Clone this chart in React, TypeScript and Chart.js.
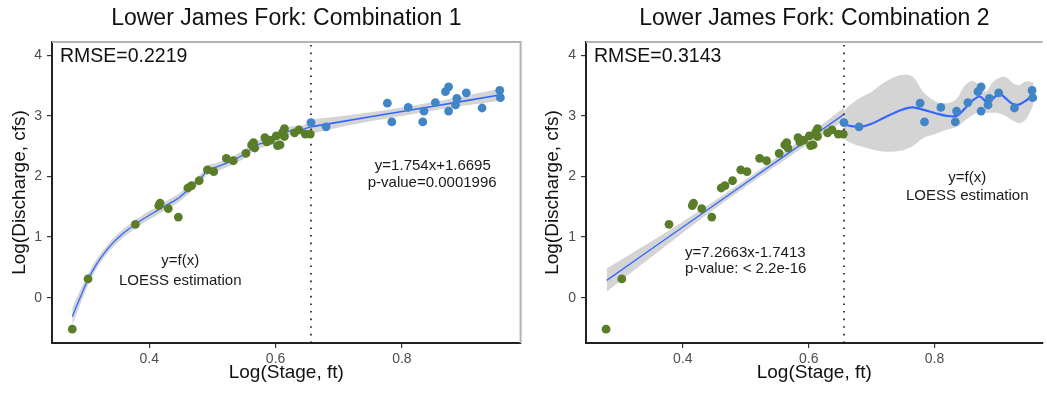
import React, { useEffect, useRef } from "react";
import { Chart, registerables } from "chart.js";

Chart.register(...registerables);

const FONT = '"Liberation Sans", Arial, Helvetica, sans-serif';

// ---------- data ----------
const xTicks = [0.4, 0.6, 0.8];
const yTicks = [0, 1, 2, 3, 4];
const breakX = [0.656];

const greenX = [0.278, 0.303, 0.378, 0.415, 0.417, 0.43, 0.446, 0.461, 0.467, 0.479, 0.492, 0.502, 0.522, 0.533, 0.553, 0.562, 0.565, 0.567, 0.583, 0.586, 0.592, 0.601, 0.603, 0.607, 0.611, 0.614, 0.614, 0.63, 0.637, 0.647, 0.655];
const greenY = [-0.52, 0.31, 1.21, 1.52, 1.56, 1.47, 1.33, 1.81, 1.85, 1.93, 2.11, 2.08, 2.3, 2.26, 2.38, 2.52, 2.56, 2.47, 2.64, 2.57, 2.6, 2.67, 2.51, 2.52, 2.73, 2.79, 2.66, 2.72, 2.77, 2.7, 2.7];

const blueX = [0.656, 0.68, 0.777, 0.784, 0.81, 0.833, 0.835, 0.853, 0.869, 0.874, 0.874, 0.885, 0.887, 0.902, 0.927, 0.955, 0.956];
const blueY = [2.89, 2.82, 3.21, 2.9, 3.14, 2.9, 3.08, 3.22, 3.4, 3.48, 3.08, 3.18, 3.29, 3.38, 3.13, 3.42, 3.3];

// Combination 1: LOESS below break, linear above
const loess1X = [0.278, 0.29, 0.303, 0.315, 0.329, 0.342, 0.356, 0.367, 0.378, 0.389, 0.4, 0.413, 0.426, 0.447, 0.47, 0.484, 0.492, 0.505, 0.533, 0.552, 0.568, 0.583, 0.599, 0.612, 0.625, 0.641, 0.655];
const loess1Y = [-0.31, -0.01, 0.3, 0.53, 0.74, 0.9, 1.04, 1.13, 1.21, 1.29, 1.36, 1.44, 1.52, 1.65, 1.86, 2.0, 2.11, 2.15, 2.27, 2.38, 2.51, 2.56, 2.61, 2.7, 2.76, 2.77, 2.82];
const loess1Lo = [-0.46, -0.13, 0.21, 0.45, 0.67, 0.83, 0.97, 1.06, 1.14, 1.22, 1.29, 1.37, 1.45, 1.58, 1.79, 1.93, 2.04, 2.08, 2.2, 2.31, 2.44, 2.49, 2.54, 2.63, 2.69, 2.7, 2.74];
const loess1Hi = [-0.16, 0.11, 0.39, 0.61, 0.81, 0.97, 1.11, 1.2, 1.28, 1.36, 1.43, 1.51, 1.59, 1.72, 1.93, 2.07, 2.18, 2.22, 2.34, 2.45, 2.58, 2.63, 2.68, 2.77, 2.83, 2.84, 2.9];

const reg1X = [0.655, 0.7, 0.75, 0.8, 0.85, 0.9, 0.957];
const reg1Y = [2.818, 2.897, 2.985, 3.073, 3.16, 3.248, 3.348];
const reg1Lo = [2.7, 2.81, 2.91, 3.0, 3.09, 3.17, 3.25];
const reg1Hi = [2.94, 2.99, 3.06, 3.14, 3.23, 3.33, 3.45];

// Combination 2: linear below break, LOESS above
const reg2X = [0.279, 0.35, 0.42, 0.5, 0.56, 0.62, 0.656];
const reg2Y = [0.286, 0.802, 1.311, 1.892, 2.328, 2.764, 3.025];
const reg2Lo = [0.1, 0.67, 1.23, 1.83, 2.26, 2.68, 2.92];
const reg2Hi = [0.48, 0.93, 1.39, 1.95, 2.4, 2.85, 3.14];

const loess2X = [0.656, 0.668, 0.682, 0.7, 0.72, 0.745, 0.765, 0.783, 0.803, 0.82, 0.835, 0.848, 0.86, 0.872, 0.882, 0.892, 0.903, 0.913, 0.925, 0.935, 0.945, 0.957];
const loess2Y = [2.86, 2.83, 2.82, 2.87, 2.97, 3.09, 3.14, 3.1, 3.04, 3.0, 3.0, 3.12, 3.25, 3.32, 3.24, 3.28, 3.37, 3.29, 3.19, 3.19, 3.25, 3.35];
const loess2Lo = [2.62, 2.55, 2.5, 2.45, 2.41, 2.42, 2.5, 2.64, 2.71, 2.77, 2.82, 2.92, 3.01, 3.07, 3.05, 3.05, 3.04, 3.0, 2.92, 2.88, 2.94, 3.18];
const loess2Hi = [3.08, 3.2, 3.3, 3.4, 3.55, 3.67, 3.65, 3.38, 3.23, 3.21, 3.28, 3.5, 3.58, 3.5, 3.4, 3.55, 3.63, 3.64, 3.54, 3.51, 3.57, 3.55];

// ---------- helpers ----------
const GREEN = "#5a7d2a";
const BLUE = "#4285c6";
const LINE = "#3366ff";
const BAND = "rgba(153,153,153,0.42)";

const pts = (xs: number[], ys: number[]) => xs.map((x, i) => ({ x, y: ys[i] }));

function band(xs: number[], lo: number[], hi: number[], mono = false) {
  const curve = mono ? { cubicInterpolationMode: "monotone" } : { tension: 0.3 };
  return [
    { type: "line", data: pts(xs, lo), borderWidth: 0, pointRadius: 0, fill: false, order: 10, ...curve },
    { type: "line", data: pts(xs, hi), borderWidth: 0, pointRadius: 0, fill: "-1", backgroundColor: BAND, order: 10, ...curve },
  ];
}
function line(xs: number[], ys: number[], w: number, curveMode: "mono" | "tension" | "straight") {
  const curve =
    curveMode === "mono" ? { cubicInterpolationMode: "monotone" } : curveMode === "tension" ? { tension: 0.3 } : { tension: 0 };
  return { type: "line", data: pts(xs, ys), borderColor: LINE, borderWidth: w, pointRadius: 0, fill: false, order: 5, ...curve };
}
function scatter(xs: number[], ys: number[], color: string) {
  return { type: "line", data: pts(xs, ys), showLine: false, pointRadius: 4.4, pointBorderWidth: 0, pointBackgroundColor: color, backgroundColor: color, order: 1 };
}
function breakLine(yMin: number, yMax: number) {
  return {
    type: "line",
    data: [{ x: breakX[0], y: yMin }, { x: breakX[0], y: yMax }],
    borderColor: "#111",
    borderWidth: 1.6,
    borderDash: [1.6, 6],
    pointRadius: 0,
    fill: false,
    order: 4,
  };
}

type Note = { text: string; x: number; y: number; align: CanvasTextAlign };

const textPlugin = {
  id: "panelText",
  afterDraw(chart: any, _args: any, opts: any) {
    const { ctx, chartArea: ca, scales } = chart;
    ctx.save();
    ctx.strokeStyle = "#b3b3b3";
    ctx.lineWidth = 2;
    ctx.beginPath();
    ctx.moveTo(ca.left, ca.top);
    ctx.lineTo(ca.right, ca.top);
    if (opts.rightBorder) ctx.lineTo(ca.right, ca.bottom);
    ctx.stroke();

    ctx.fillStyle = "#111";
    ctx.textBaseline = "middle";
    ctx.textAlign = "center";
    ctx.font = `23px ${FONT}`;
    ctx.fillText(opts.title, (ca.left + ca.right) / 2, 18.5);

    ctx.textAlign = "left";
    ctx.font = `19.5px ${FONT}`;
    ctx.fillText(opts.rmse, ca.left + 8, 57);

    ctx.font = `15px ${FONT}`;
    ctx.fillStyle = "#1a1a1a";
    (opts.notes as Note[]).forEach((n) => {
      ctx.textAlign = n.align;
      ctx.fillText(n.text, scales.x.getPixelForValue(n.x), scales.y.getPixelForValue(n.y));
    });
    ctx.restore();
  },
};

const Y_MIN = -0.7475;
const Y_MAX = 4.219;

function makeOptions(p: {
  xMin: number; xMax: number; yAxisW: number; yTitlePad: number; padRight: number;
  title: string; rmse: string; notes: Note[]; rightBorder: boolean;
}) {
  const grid = { display: true, drawOnChartArea: false, drawTicks: true, tickLength: 5, color: "#333", lineWidth: 1.2 };
  const border = { display: true, color: "#222", width: 2 };
  const tickFont = { family: FONT, size: 14 };
  const titleFont = { family: FONT, size: 19 };
  return {
    responsive: false,
    animation: false,
    events: [],
    layout: { padding: { top: 42, right: p.padRight, left: 0, bottom: 0 } },
    plugins: {
      legend: { display: false },
      tooltip: { enabled: false },
      title: { display: false },
      panelText: { title: p.title, rmse: p.rmse, notes: p.notes, rightBorder: p.rightBorder },
    },
    scales: {
      x: {
        type: "linear",
        min: p.xMin,
        max: p.xMax,
        afterBuildTicks: (s: any) => { s.ticks = xTicks.map((v) => ({ value: v })); },
        afterFit: (s: any) => { s.height = 51; },
        ticks: { color: "#4d4d4d", font: tickFont, padding: 3, maxRotation: 0, autoSkip: false, callback: (v: any) => Number(v).toFixed(1) },
        grid,
        border,
        title: { display: true, text: "Log(Stage, ft)", color: "#111", font: titleFont, padding: { top: 0, bottom: 10 } },
      },
      y: {
        type: "linear",
        min: Y_MIN,
        max: Y_MAX,
        afterBuildTicks: (s: any) => { s.ticks = yTicks.map((v) => ({ value: v })); },
        afterFit: (s: any) => { s.width = p.yAxisW; },
        ticks: { color: "#4d4d4d", font: tickFont, padding: 5, callback: (v: any) => String(v) },
        grid,
        border,
        title: { display: true, text: "Log(Discharge, cfs)", color: "#111", font: titleFont, padding: { top: p.yTitlePad, bottom: 0 } },
      },
    },
  };
}

function Panel(props: { which: 1 | 2; left: number; width: number }) {
  const ref = useRef<HTMLCanvasElement | null>(null);
  useEffect(() => {
    if (!ref.current) return;
    let datasets: any[];
    let options: any;
    if (props.which === 1) {
      datasets = [
        scatter(greenX, greenY, GREEN),
        scatter(blueX, blueY, BLUE),
        line(loess1X, loess1Y, 1.3, "mono"),
        line(reg1X, reg1Y, 1.6, "straight"),
        breakLine(Y_MIN, Y_MAX),
        ...band(loess1X, loess1Lo, loess1Hi, true),
        ...band(reg1X, reg1Lo, reg1Hi),
      ];
      options = makeOptions({
        xMin: 0.2459, xMax: 0.988, yAxisW: 52, yTitlePad: 8.4, padRight: 1,
        title: "Lower James Fork: Combination 1", rmse: "RMSE=0.2219", rightBorder: true,
        notes: [
          { text: "y=f(x)", x: 0.449, y: 0.6, align: "center" },
          { text: "LOESS estimation", x: 0.449, y: 0.285, align: "center" },
          { text: "y=1.754x+1.6695", x: 0.849, y: 2.18, align: "center" },
          { text: "p-value=0.0001996", x: 0.848, y: 1.89, align: "center" },
        ],
      });
    } else {
      datasets = [
        scatter(greenX, greenY, GREEN),
        scatter(blueX, blueY, BLUE),
        line(reg2X, reg2Y, 1.3, "straight"),
        line(loess2X, loess2Y, 2.2, "tension"),
        breakLine(Y_MIN, Y_MAX),
        ...band(reg2X, reg2Lo, reg2Hi),
        ...band(loess2X, loess2Lo, loess2Hi),
      ];
      options = makeOptions({
        xMin: 0.2461, xMax: 0.9717, yAxisW: 61, yTitlePad: 16.8, padRight: 0,
        title: "Lower James Fork: Combination 2", rmse: "RMSE=0.3143", rightBorder: false,
        notes: [
          { text: "y=7.2663x-1.7413", x: 0.4036, y: 0.74, align: "left" },
          { text: "p-value: < 2.2e-16", x: 0.4036, y: 0.47, align: "left" },
          { text: "y=f(x)", x: 0.852, y: 1.975, align: "center" },
          { text: "LOESS estimation", x: 0.852, y: 1.68, align: "center" },
        ],
      });
    }
    const chart = new Chart(ref.current, {
      type: "line",
      data: { datasets },
      options,
      plugins: [textPlugin as any],
    } as any);
    return () => chart.destroy();
  }, [props.which]);
  return (
    <canvas
      ref={ref}
      width={props.width}
      height={394}
      style={{ position: "absolute", left: props.left, top: 0, width: props.width, height: 394, display: "block" }}
    />
  );
}

export default function App() {
  return (
    <div style={{ position: "fixed", left: 0, top: 0, width: 1047, height: 394, background: "#fff", overflow: "hidden" }}>
      <Panel which={1} left={0} width={525} />
      <Panel which={2} left={525} width={522} />
    </div>
  );
}
